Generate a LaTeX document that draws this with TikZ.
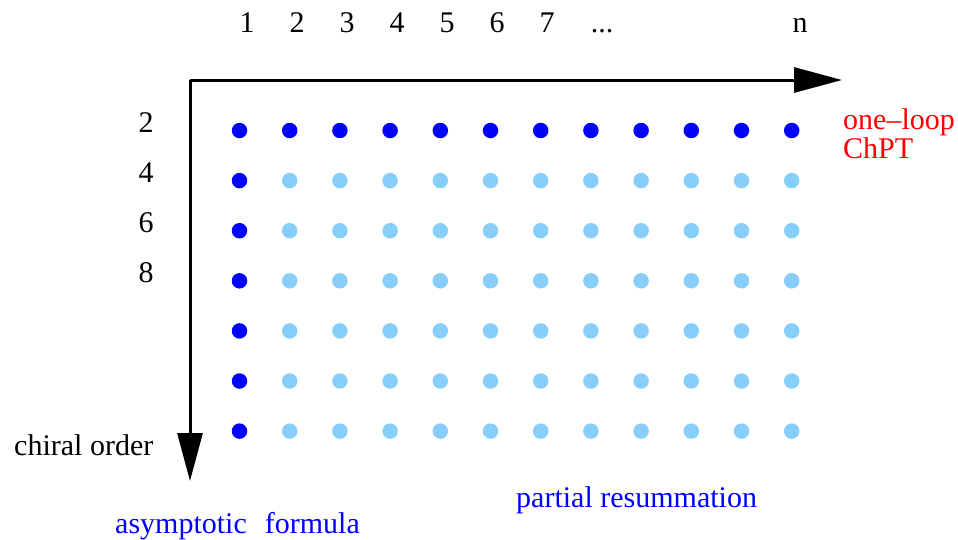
\documentclass[tikz,border=0pt]{standalone}
\usepackage{fontspec}
\setmainfont{Liberation Serif}
\usetikzlibrary{arrows.meta}
\definecolor{dotdark}{RGB}{0,0,255}
\definecolor{dotlight}{RGB}{135,206,250}
\definecolor{labred}{RGB}{255,0,0}
\begin{document}
\begin{tikzpicture}[x=1pt,y=-1pt,
  lab/.style={font=\fontsize{30}{34}\selectfont, inner sep=0pt, anchor=base},
  leftlab/.style={lab, anchor=base west},
  axis/.style={line width=3pt, -{Triangle[length=48pt,width=25pt]}},
  darkdot/.style={circle, fill=dotdark, inner sep=0pt, minimum size=15.5pt},
  lightdot/.style={circle, fill=dotlight, inner sep=0pt, minimum size=15.5pt}]
\useasboundingbox (0,0) rectangle (958,539);

% axes
\coordinate (O) at (190,80);
\coordinate (xend) at (842,80);
\coordinate (yend) at (190,481);
\draw[axis] (O) -- (xend);
\draw[axis] (O) -- (yend);

% grid of dots: first row and first column dark
\foreach \i in {0,...,11} {
  \foreach \j in {0,...,6} {
    \pgfmathsetmacro{\px}{239.5+50.2*\i}
    \pgfmathsetmacro{\py}{130.5+50.1*\j}
    \ifnum\i=0
      \node[darkdot] (d-\i-\j) at (\px,\py) {};
    \else\ifnum\j=0
      \node[darkdot] (d-\i-\j) at (\px,\py) {};
    \else
      \node[lightdot] (d-\i-\j) at (\px,\py) {};
    \fi\fi
  }
}

% column labels
\foreach \t/\x [count=\k] in {1/247,2/297,3/347,4/397,5/447,6/497,7/547}
  \node[lab] (c\k) at (\x,32) {\t};
\node[lab] (cdots) at (602,32) {...};
\node[lab] (cn) at (800,32) {n};

% row labels
\foreach \t/\y [count=\k] in {2/132,4/182,6/232,8/282}
  \node[lab] (r\k) at (146,\y) {\t};

% two-line label; its base anchor sits on the second line
\node[leftlab, text=labred, align=left, font=\fontsize{30}{27}\selectfont]
  (oneloop) at (843,158) {one--loop\\ChPT};
\node[leftlab] (chiral) at (14,455) {chiral order};
\node[leftlab, text=dotdark] (asym) at (115,533) {asymptotic\hspace{18pt}formula};
\node[leftlab, text=dotdark] (partial) at (516,507) {partial resummation};
\end{tikzpicture}
\end{document}
